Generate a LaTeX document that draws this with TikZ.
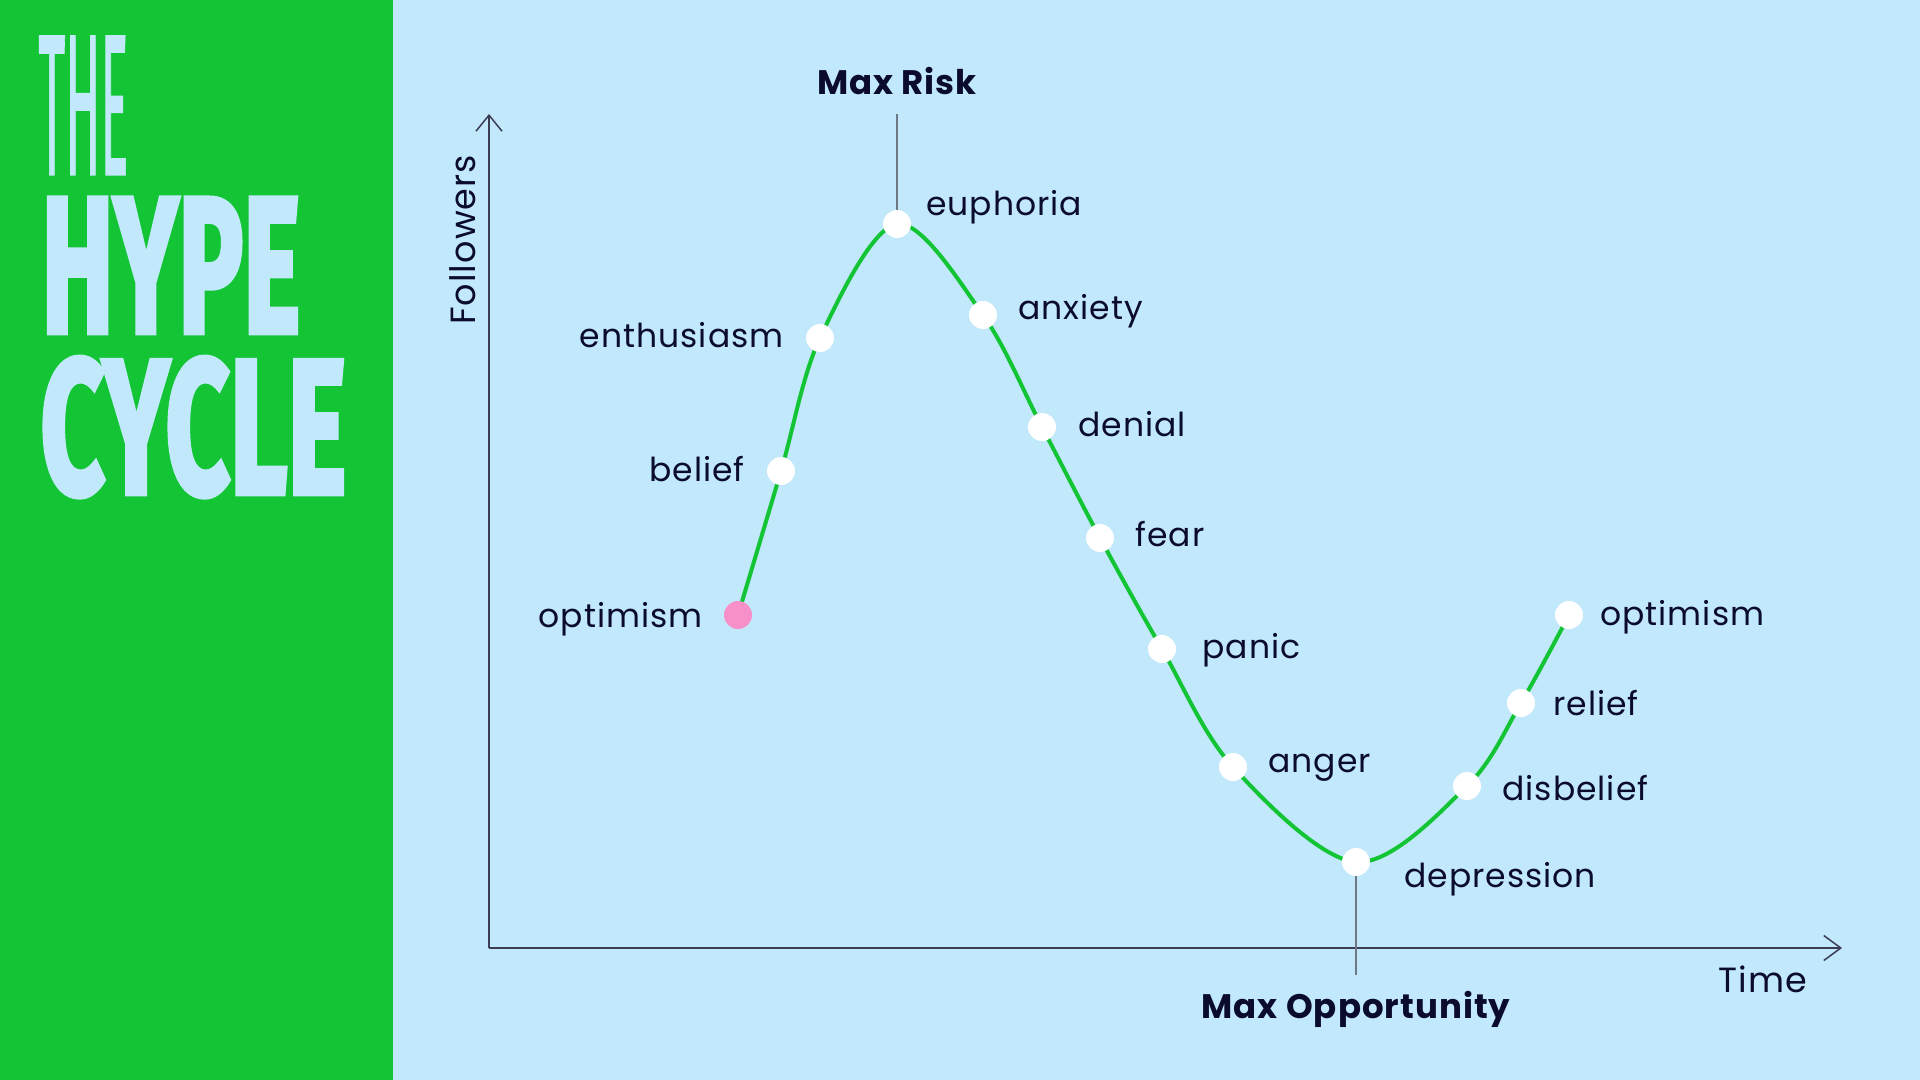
\documentclass[tikz,border=0pt]{standalone}
\usepackage{fontspec}
\usepackage{graphicx}
\setmainfont{Poppins}[LetterSpace=3]
\newfontfamily\titlefont{Fira Sans}[FakeBold=3]
\newfontfamily\thinfont{Fira Sans}[FakeBold=1.2]
\usetikzlibrary{arrows.meta}
\definecolor{bgblue}{HTML}{C1E8FB}
\definecolor{hypegreen}{HTML}{13C535}
\definecolor{navy}{HTML}{0B0B2B}
\definecolor{pinkdot}{HTML}{F78FC8}
\definecolor{guide}{HTML}{6E7884}
\tikzset{
  curveline/.style={hypegreen, line width=2pt},
  dot/.style={circle, fill=white, inner sep=0pt, minimum size=14pt},
  pdot/.style={dot, fill=pinkdot},
  lbl/.style={text=navy, inner sep=0pt, font=\fontsize{16.5pt}{19pt}\selectfont},
  axislbl/.style={lbl, font=\fontsize{17.5pt}{20pt}\selectfont},
  bold lbl/.style={lbl, font=\fontsize{17pt}{20pt}\selectfont\bfseries},
  axis/.style={draw=navy!80, line width=0.75pt},
  guideline/.style={draw=guide, line width=0.8pt},
  titletext/.style={anchor=north west, inner sep=0pt, text=bgblue}
}
\begin{document}
\begin{tikzpicture}[x=0.5pt,y=-0.5pt]
\useasboundingbox (0,0) rectangle (1920,1080);
\fill[bgblue] (0,0) rectangle (1920,1080);
\fill[hypegreen] (0,0) rectangle (393,1080);

% title
\node[titletext] (tthe) at (38,36) {\resizebox{45pt}{69pt}{\thinfont THE}};
\node[titletext] (thype) at (41,198) {\resizebox{129.5pt}{67pt}{\titlefont\bfseries HYPE}};
\node[titletext] (tcycle) at (40,357) {\resizebox{153pt}{68pt}{\titlefont\bfseries CYCLE}};

% axes
\coordinate (O) at (489,948);
\coordinate (ytop) at (489,114);
\coordinate (xend) at (1842,948);
\draw[axis, -{Straight Barb[length=8pt,width=13pt]}] (O) -- (ytop);
\draw[axis, -{Straight Barb[length=8.5pt,width=12.5pt]}] (O) -- (xend);
\node[axislbl, rotate=90, anchor=base] (followers) at (475,240) {Followers};
\node[axislbl, anchor=base west] (time) at (1718,992) {Time};

% curve points
\coordinate (c1) at (738,615);
\coordinate (c2) at (781,471);
\coordinate (c3) at (820,338);
\coordinate (c4) at (897,224);
\coordinate (c5) at (983,315);
\coordinate (c6) at (1042,427);
\coordinate (c7) at (1100,538);
\coordinate (c8) at (1162,649);
\coordinate (c9) at (1233,767);
\coordinate (c10) at (1356,862);
\coordinate (c11) at (1467,786);
\coordinate (c12) at (1521,703);
\coordinate (c13) at (1569,615);

\draw[curveline] plot[smooth, tension=0.55] coordinates {(c1) (c2) (c3) (c4) (c5) (c6) (c7) (c8) (c9) (c10) (c11) (c12) (c13)};

% guide lines
\coordinate (riskTop) at (897,114);
\coordinate (oppBot) at (1356,975);
\draw[guideline] (riskTop) -- (c4);
\draw[guideline] (c10) -- (oppBot);

% dots
\node[pdot] (p1) at (c1) {};
\foreach \i in {2,...,13} { \node[dot] (p\i) at (c\i) {}; }

% labels
\node[lbl, anchor=base east] (l1) at (703,627) {optimism};
\node[lbl, anchor=base east] (l2) at (745,481) {belief};
\node[lbl, anchor=base east] (l3) at (784,348) {enthusiasm};
\node[lbl, anchor=base west] (l4) at (926,216) {euphoria};
\node[lbl, anchor=base west] (l5) at (1018,320) {anxiety};
\node[lbl, anchor=base west] (l6) at (1078,436) {denial};
\node[lbl, anchor=base west] (l7) at (1135,546) {fear};
\node[lbl, anchor=base west] (l8) at (1202,658) {panic};
\node[lbl, anchor=base west] (l9) at (1268,772) {anger};
\node[lbl, anchor=base west] (l10) at (1404,887) {depression};
\node[lbl, anchor=base west] (l11) at (1502,800) {disbelief};
\node[lbl, anchor=base west] (l12) at (1553,715) {relief};
\node[lbl, anchor=base west] (l13) at (1600,625) {optimism};

\node[bold lbl, anchor=base] (maxrisk) at (897,95) {Max Risk};
\node[bold lbl, anchor=base] (maxopp) at (1356,1018) {Max Opportunity};
\end{tikzpicture}
\end{document}
